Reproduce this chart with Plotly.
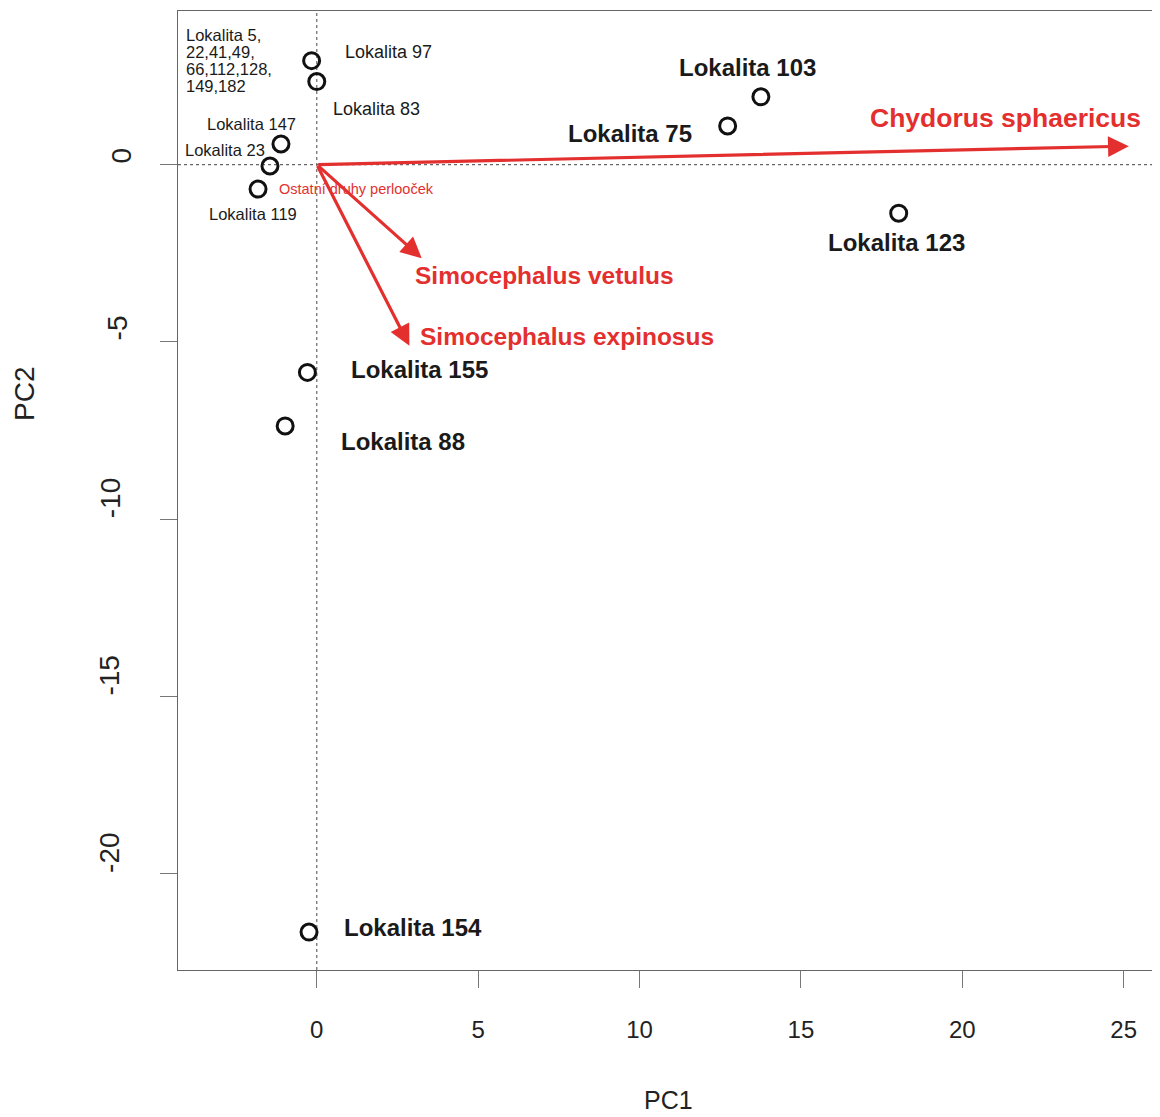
import plotly.graph_objects as go

# ---------------- data ----------------
site_names = ["Lokalita 97", "Lokalita 83", "Lokalita 147", "Lokalita 23", "Lokalita 119",
              "Lokalita 103", "Lokalita 75", "Lokalita 123", "Lokalita 155", "Lokalita 88",
              "Lokalita 154"]
site_pc1 = [-0.16, 0.00, -1.11, -1.45, -1.82, 13.76, 12.73, 18.03, -0.29, -0.98, -0.24]
site_pc2 = [2.93, 2.34, 0.58, -0.04, -0.69, 1.91, 1.09, -1.37, -5.86, -7.37, -21.64]

group_label_lines = ["Lokalita 5,", "22,41,49,", "66,112,128,", "149,182"]

species_names = ["Chydorus sphaericus", "Simocephalus vetulus", "Simocephalus expinosus",
                 "Ostatní druhy perlooček"]
species_pc1 = [25.16, 3.25, 2.87, 0.03]
species_pc2 = [0.52, -2.64, -5.11, -0.03]

x_ticks = [0, 5, 10, 15, 20, 25]
y_ticks = [0, -5, -10, -15, -20]

# ---------------- styles / layout ----------------
FONT = "Liberation Sans, Arial, sans-serif"
RED = "#e3302f"
PAGE_OFFSET = 8                      # default body margin of the html page
W, H = 1160 - PAGE_OFFSET, 1117 - PAGE_OFFSET
L, R, T, B = 178 - PAGE_OFFSET, 6, 11 - PAGE_OFFSET, 147
PLOT_W = W - L - R
PLOT_H = H - T - B
X_RANGE = [-4.30, 25.94]
Y_RANGE = [-22.71, 4.33]

# label styling per site: (bold, size, xanchor, xshift, yshift)
site_label_style = {
    "Lokalita 97": (False, 18, "left", 31, 9),
    "Lokalita 83": (False, 18, "left", 14, -27),
    "Lokalita 147": (False, 16.5, "left", -76, 20),
    "Lokalita 23": (False, 16.5, "left", -87, 16),
    "Lokalita 119": (False, 16.5, "left", -51, -25),
    "Lokalita 103": (True, 24, "center", -13, 29),
    "Lokalita 75": (True, 24, "right", -34, -8),
    "Lokalita 123": (True, 24, "center", -2, -29),
    "Lokalita 155": (True, 24, "left", 42, 3),
    "Lokalita 88": (True, 24, "left", 54, -16),
    "Lokalita 154": (True, 24, "left", 33, 5),
}
species_label_style = {
    "Chydorus sphaericus": (26.5, "right", 14, 28),
    "Simocephalus vetulus": (24.5, "left", -9, -17),
    "Simocephalus expinosus": (24.5, "left", 9, 9),
    "Ostatní druhy perlooček": (14.5, "left", -41, -23),
}
group_label_shift = (-128, [26, 9, -8, -25])  # relative to Lokalita 97 point
ytick_label_xshift = {0: -56, -5: -61, -10: -68, -15: -68, -20: -68}

fig = go.Figure()

# dotted zero lines
fig.add_shape(type="line", xref="x", yref="paper", x0=0, x1=0, y0=0, y1=1,
              line=dict(color="#666666", width=1.2, dash="dot"), layer="below")
fig.add_shape(type="line", xref="paper", yref="y", x0=0, x1=1, y0=0, y1=0,
              line=dict(color="#666666", width=1.2, dash="dot"), layer="below")

# site points
fig.add_trace(go.Scatter(
    x=site_pc1, y=site_pc2, mode="markers",
    marker=dict(symbol="circle-open", size=16, color="#111111", line=dict(width=3, color="#111111")),
    showlegend=False, hoverinfo="text", text=site_names))

annotations = []

# species arrows
for name, sx, sy in zip(species_names, species_pc1, species_pc2):
    is_tiny = abs(sx) < 0.5 and abs(sy) < 0.5
    annotations.append(dict(
        x=sx, y=sy, ax=0, ay=0, xref="x", yref="y", axref="x", ayref="y",
        text="", showarrow=True, arrowhead=0 if is_tiny else 2, arrowsize=1.3,
        arrowwidth=3.2, arrowcolor=RED, standoff=0, startstandoff=0))
    size, xa, xs, ys = species_label_style[name]
    annotations.append(dict(
        x=sx, y=sy, xref="x", yref="y", text=name if is_tiny else f"<b>{name}</b>",
        showarrow=False, xanchor=xa, yanchor="middle", xshift=xs, yshift=ys,
        font=dict(family=FONT, size=size, color=RED)))

# site labels
for name, px, py in zip(site_names, site_pc1, site_pc2):
    bold, size, xa, xs, ys = site_label_style[name]
    annotations.append(dict(
        x=px, y=py, xref="x", yref="y",
        text=f"<b>{name}</b>" if bold else name,
        showarrow=False, xanchor=xa, yanchor="middle", xshift=xs, yshift=ys,
        font=dict(family=FONT, size=size, color="#1a1a1a")))

# grouped label (several sites)
gx, gys = group_label_shift
i97 = site_names.index("Lokalita 97")
for line, ys in zip(group_label_lines, gys):
    annotations.append(dict(
        x=site_pc1[i97], y=site_pc2[i97], xref="x", yref="y", text=line,
        showarrow=False, xanchor="left", yanchor="middle", xshift=gx, yshift=ys,
        font=dict(family=FONT, size=16.5, color="#1a1a1a")))

# y tick labels (rotated, start aligned at tick)
for t in y_ticks:
    annotations.append(dict(
        x=0, y=t, xref="paper", yref="y", text=str(t), textangle=-90,
        showarrow=False, xanchor="center", yanchor="bottom", borderpad=0,
        xshift=ytick_label_xshift[t], font=dict(family=FONT, size=28, color="#222222")))

# axis titles
annotations.append(dict(x=(668 - 178) / PLOT_W, y=0, xref="paper", yref="paper",
                        text="PC1", showarrow=False, yanchor="middle", yshift=-130,
                        font=dict(family=FONT, size=25, color="#222222")))
annotations.append(dict(x=0, y=(970 - 394) / PLOT_H, xref="paper", yref="paper",
                        text="PC2", showarrow=False, textangle=-90, xanchor="center",
                        yanchor="middle", xshift=-153, font=dict(family=FONT, size=28, color="#222222")))

fig.update_layout(
    width=W, height=H, margin=dict(l=L, r=R, t=T, b=B),
    paper_bgcolor="white", plot_bgcolor="white",
    annotations=annotations, showlegend=False,
    font=dict(family=FONT, color="#222222"),
)
fig.update_xaxes(range=X_RANGE, tickmode="array", tickvals=x_ticks,
                 ticktext=[str(v) for v in x_ticks],
                 ticks="outside", ticklen=17, tickcolor="#777777", tickwidth=1,
                 showline=True, linecolor="#666666", linewidth=1, mirror=True,
                 showgrid=False, zeroline=False, ticklabelstandoff=21,
                 tickfont=dict(family=FONT, size=24, color="#222222"))
fig.update_yaxes(range=Y_RANGE, tickmode="array", tickvals=y_ticks,
                 ticks="outside", ticklen=17, tickcolor="#777777", tickwidth=1,
                 showline=True, linecolor="#666666", linewidth=1, mirror=True,
                 showgrid=False, zeroline=False, showticklabels=False)

fig.write_html("out.html")
